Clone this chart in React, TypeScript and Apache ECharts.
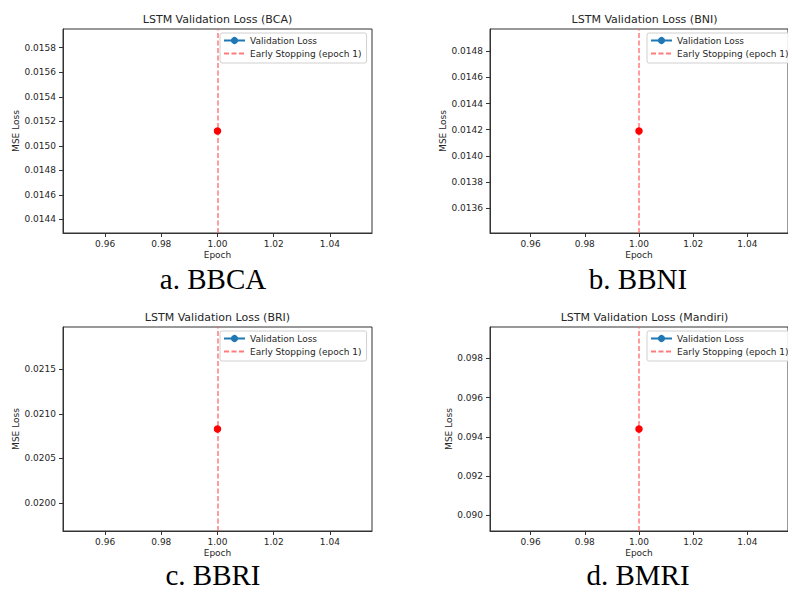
import React, { useEffect, useRef } from "react";
import * as echarts from "echarts";

// ---- data ----
const tickers = ["BCA", "BNI", "BRI", "Mandiri"];
const captions = ["a. BBCA", "b. BBNI", "c. BBRI", "d. BMRI"];
const epochs = [1];
const valLossBCA = [0.015121];
const valLossBNI = [0.01419];
const valLossBRI = [0.02083];
const valLossMandiri = [0.0944];
const earlyStopEpoch = [1, 1, 1, 1];
const xTicks = [0.96, 0.98, 1.0, 1.02, 1.04];
const yTicksBCA = [0.0144, 0.0146, 0.0148, 0.015, 0.0152, 0.0154, 0.0156, 0.0158];
const yTicksBNI = [0.0136, 0.0138, 0.014, 0.0142, 0.0144, 0.0146, 0.0148];
const yTicksBRI = [0.02, 0.0205, 0.021, 0.0215];
const yTicksMandiri = [0.09, 0.092, 0.094, 0.096, 0.098];
const yDecimals = [4, 4, 4, 3];

const losses = [valLossBCA, valLossBNI, valLossBRI, valLossMandiri];
const yTicks = [yTicksBCA, yTicksBNI, yTicksBRI, yTicksMandiri];

// ---- layout ----
const grids = [
  { left: 63, top: 29, width: 309, height: 204 },
  { left: 490, top: 29, width: 309, height: 204 },
  { left: 63, top: 327, width: 309, height: 204 },
  { left: 490, top: 327, width: 309, height: 204 },
];
const nameGaps = [40, 41, 41, 37];
const FONT = "DejaVu Sans";
const TXT = "#262626";

export default function App() {
  const ref = useRef<HTMLDivElement>(null);
  useEffect(() => {
    if (!ref.current) return;
    const chart = echarts.init(ref.current, null, { renderer: "svg" });

    const xAxes: any[] = [];
    const yAxes: any[] = [];
    const series: any[] = [];
    const legends: any[] = [];
    const graphics: any[] = [];

    grids.forEach((g, i) => {
      const v = losses[i][0];
      xAxes.push({
        type: "value",
        gridIndex: i,
        min: 0.945,
        max: 1.055,
        name: "Epoch",
        nameLocation: "middle",
        nameGap: 17,
        nameTextStyle: { fontSize: 9, color: TXT, fontFamily: FONT },
        axisLine: { show: true, onZero: false, lineStyle: { color: "#333", width: 1 } },
        axisTick: { show: true, length: 4, customValues: xTicks, lineStyle: { color: "#333" } },
        axisLabel: {
          customValues: xTicks,
          formatter: (val: number) => val.toFixed(2),
          fontSize: 9,
          color: TXT,
          fontFamily: FONT,
          margin: 6,
        },
        splitLine: { show: false },
      });
      yAxes.push({
        type: "value",
        gridIndex: i,
        min: v * 0.945,
        max: v * 1.055,
        name: "MSE Loss",
        nameLocation: "middle",
        nameRotate: 90,
        nameGap: nameGaps[i],
        nameTextStyle: { fontSize: 9, color: TXT, fontFamily: FONT },
        axisLine: { show: true, onZero: false, lineStyle: { color: "#333", width: 1 } },
        axisTick: { show: true, length: 4, customValues: yTicks[i], lineStyle: { color: "#333" } },
        axisLabel: {
          customValues: yTicks[i],
          formatter: (val: number) => val.toFixed(yDecimals[i]),
          fontSize: 9,
          color: TXT,
          fontFamily: FONT,
          margin: 7,
        },
        splitLine: { show: false },
      });
      series.push({
        type: "line",
        name: "Validation Loss",
        xAxisIndex: i,
        yAxisIndex: i,
        data: epochs.map((e, k) => [e, losses[i][k]]),
        symbol: "circle",
        symbolSize: 6,
        itemStyle: { color: "#1f77b4" },
        lineStyle: { color: "#1f77b4", width: 1.2 },
        z: 3,
      });
      series.push({
        type: "line",
        name: "Early Stopping (epoch 1)",
        xAxisIndex: i,
        yAxisIndex: i,
        data: [],
        symbol: "none",
        itemStyle: { color: "#ff5a5a" },
        lineStyle: { color: "#ff5a5a", width: 1.5, type: [5, 2.5], opacity: 0.8 },
        markLine: {
          silent: true,
          symbol: "none",
          label: { show: false },
          lineStyle: { color: "#ff5a5a", width: 1.5, type: [5, 2.5], opacity: 0.8 },
          data: [{ xAxis: earlyStopEpoch[i] }],
        },
        z: 2,
      });
      series.push({
        type: "scatter",
        name: "best",
        xAxisIndex: i,
        yAxisIndex: i,
        data: [[earlyStopEpoch[i], losses[i][earlyStopEpoch[i] - 1]]],
        symbol: "circle",
        symbolSize: 7.5,
        itemStyle: { color: "#ff0000", opacity: 1 },
        z: 5,
      });
      legends.push({
        orient: "vertical",
        left: g.left + 157,
        top: g.top + 4,
        data: [
          { name: "Validation Loss" },
          { name: "Early Stopping (epoch 1)", itemStyle: { opacity: 0, color: "transparent", borderWidth: 0 } },
        ],
        itemWidth: 21,
        itemHeight: 9,
        itemGap: 4,
        padding: [3, 5, 5, 3],
        borderColor: "#d0d0d0",
        borderWidth: 1,
        borderRadius: 2,
        backgroundColor: "rgba(255,255,255,0.85)",
        selectedMode: false,
        textStyle: { fontSize: 9, color: TXT, fontFamily: FONT, lineHeight: 9 },
      });
      graphics.push({
        type: "text",
        x: g.left + g.width / 2,
        y: g.top - 9.5,
        style: {
          text: `LSTM Validation Loss (${tickers[i]})`,
          fontSize: 11,
          fontFamily: FONT,
          fill: TXT,
          align: "center",
          verticalAlign: "middle",
        },
      });
      graphics.push({
        type: "text",
        x: i % 2 === 0 ? 213 : 638,
        y: i < 2 ? 279 : 575,
        style: {
          text: captions[i],
          fontSize: 29,
          fontFamily: "Liberation Serif",
          fill: "#000",
          align: "center",
          verticalAlign: "middle",
        },
      });
    });

    chart.setOption({
      animation: false,
      backgroundColor: "#fff",
      grid: grids.map((g) => ({ ...g, show: true, borderColor: "#333", borderWidth: 1, containLabel: false })),
      xAxis: xAxes,
      yAxis: yAxes,
      series,
      legend: legends,
      graphic: graphics,
    });
    return () => chart.dispose();
  }, []);
  return (
    <div
      ref={ref}
      style={{ position: "absolute", left: 0, top: 0, width: 788, height: 592 }}
    />
  );
}
